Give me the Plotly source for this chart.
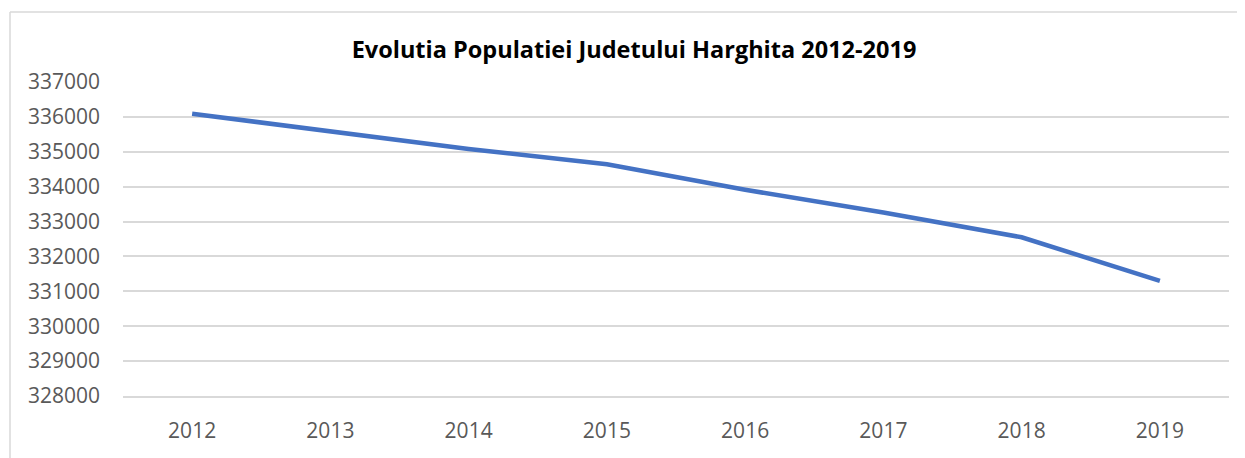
import plotly.graph_objects as go

years = ["2012", "2013", "2014", "2015", "2016", "2017", "2018", "2019"]
population = [336090, 335580, 335080, 334640, 333910, 333260, 332550, 331300]
y_ticks = list(range(328000, 337001, 1000))

fig = go.Figure()
fig.add_trace(go.Scatter(
    x=years, y=population, mode="lines",
    line=dict(color="#4472C4", width=4.5),
    showlegend=False, hoverinfo="x+y",
))

# page body has an 8px margin, so the figure is 8px smaller and shifted
frame_left = -113 / 1106
frame_top = 1 + 70 / 314
fig.update_layout(
    width=1237, height=450,
    margin=dict(l=115, r=16, t=74, b=62),
    paper_bgcolor="white", plot_bgcolor="white",
    title=dict(
        text="<b>Evolutia Populatiei Judetului Harghita 2012-2019</b>",
        x=(634 - 8) / 1237, xanchor="center", y=1 - 42 / 450, yanchor="middle",
        font=dict(family="Open Sans", size=23.5, color="#000000"),
    ),
    font=dict(family="Open Sans", color="#595959"),
    shapes=[
        dict(type="line", xref="paper", yref="paper",
             x0=frame_left, x1=frame_left, y0=-0.5, y1=frame_top,
             line=dict(color="#d9d9d9", width=1.5), layer="below"),
        dict(type="line", xref="paper", yref="paper",
             x0=frame_left, x1=1.2, y0=frame_top, y1=frame_top,
             line=dict(color="#d9d9d9", width=1.5), layer="below"),
    ],
)
fig.update_xaxes(
    type="category", range=[-0.5, 7.5], showgrid=False, zeroline=False,
    showline=True, linecolor="#d9d9d9", linewidth=1.5,
    tickfont=dict(size=21, color="#595959"), ticks="", ticklabelstandoff=15,
)
fig.update_yaxes(
    range=[328000, 337000], tickvals=y_ticks, tickformat="d",
    showgrid=True, gridcolor="#d9d9d9", gridwidth=1.5, zeroline=False,
    showline=False, tickfont=dict(size=21, color="#595959"), ticks="",
    ticklabelstandoff=22,
)

fig.write_html("out.html")
